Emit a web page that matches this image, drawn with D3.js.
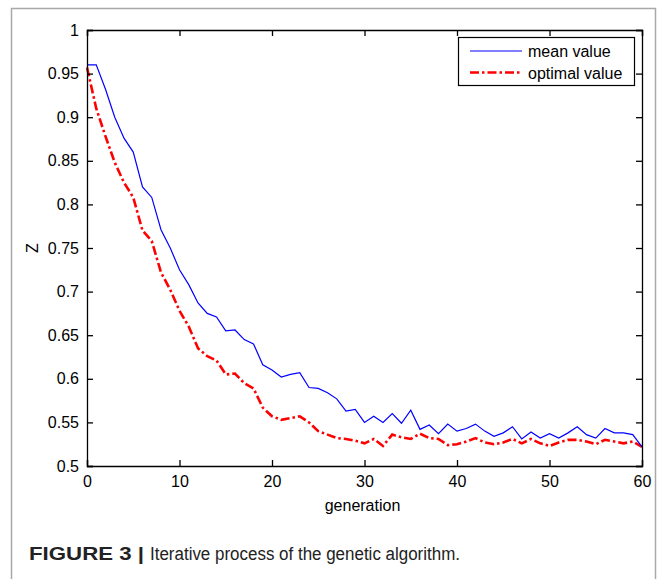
<!DOCTYPE html>
<html><head><meta charset="utf-8">
<script src="https://cdn.jsdelivr.net/npm/d3@7"></script>
<style>body{margin:0;background:#fff;} svg{display:block;}</style>
</head><body>
<svg id="chart" width="665" height="579"></svg>
<script>
const generations = d3.range(0, 61);
const meanValue = [0.960,0.960,0.932,0.900,0.876,0.860,0.820,0.808,0.771,0.750,
  0.725,0.708,0.687,0.675,0.671,0.655,0.656,0.645,0.640,0.616,
  0.610,0.602,0.605,0.607,0.590,0.589,0.584,0.577,0.563,0.565,
  0.550,0.557,0.550,0.560,0.549,0.564,0.542,0.547,0.537,0.548,
  0.540,0.543,0.548,0.540,0.534,0.538,0.545,0.531,0.539,0.532,
  0.537,0.532,0.538,0.545,0.536,0.532,0.543,0.538,0.538,0.536,0.522];
const optimalValue = [0.957,0.910,0.878,0.848,0.825,0.808,0.770,0.758,0.722,0.702,
  0.678,0.660,0.635,0.626,0.621,0.605,0.606,0.595,0.589,0.567,
  0.557,0.553,0.555,0.557,0.550,0.540,0.536,0.532,0.531,0.529,
  0.526,0.531,0.523,0.536,0.533,0.531,0.537,0.532,0.531,0.524,
  0.525,0.528,0.532,0.527,0.525,0.527,0.531,0.526,0.531,0.526,
  0.523,0.527,0.530,0.530,0.528,0.525,0.530,0.528,0.526,0.528,0.522];
const xTicks = [0,10,20,30,40,50,60];
const yTicks = [0.5,0.55,0.6,0.65,0.7,0.75,0.8,0.85,0.9,0.95,1];
const seriesNames = ["mean value","optimal value"];
const xLabel = "generation";
const yLabel = "Z";
const captionBold = "FIGURE 3 |";
const captionText = "Iterative process of the genetic algorithm.";

const svg = d3.select("#chart");
const font = "'Liberation Sans', Arial, sans-serif";
const L = 87, R = 642, T = 30, B = 466;
const x = d3.scaleLinear().domain([0,60]).range([L,R]);
const y = d3.scaleLinear().domain([0.5,1]).range([B,T]);

// outer frame
svg.append("rect").attr("x",11.5).attr("y",8.5).attr("width",644).attr("height",620)
  .attr("fill","none").attr("stroke","#a8a8a8").attr("stroke-width",1.5);

// lines
const line = d3.line().x((d,i)=>x(generations[i])).y(d=>y(d));
svg.append("path").datum(optimalValue).attr("d",line).attr("fill","none")
  .attr("stroke","#ff0000").attr("stroke-width",2.6).attr("stroke-dasharray","9,3,2.5,3");
svg.append("path").datum(meanValue).attr("d",line).attr("fill","none")
  .attr("stroke","#0000ff").attr("stroke-width",1.2);

// axes (inward ticks, box)
const tickLen = 6;
const gB = svg.append("g").attr("transform",`translate(0,${B})`)
  .call(d3.axisBottom(x).tickValues(xTicks).tickSize(-tickLen).tickPadding(10).tickFormat(d3.format("d")));
const gT = svg.append("g").attr("transform",`translate(0,${T})`)
  .call(d3.axisTop(x).tickValues(xTicks).tickSize(-tickLen).tickFormat(""));
const gL = svg.append("g").attr("transform",`translate(${L},0)`)
  .call(d3.axisLeft(y).tickValues(yTicks).tickSize(-tickLen).tickPadding(8).tickFormat(d=>d3.format("")(+d.toFixed(2))));
const gR = svg.append("g").attr("transform",`translate(${R},0)`)
  .call(d3.axisRight(y).tickValues(yTicks).tickSize(-tickLen).tickFormat(""));
[gB,gT,gL,gR].forEach(g=>{
  g.select(".domain").attr("stroke","#000").attr("stroke-width",1.3);
  g.selectAll(".tick line").attr("stroke","#000").attr("stroke-width",1.3);
  g.selectAll(".tick text").attr("fill","#000").style("font-family",font).style("font-size","16px");
});
gB.selectAll(".tick text").attr("dy","0.71em");

// axis labels
svg.append("text").attr("x",(L+R)/2 - 2).attr("y",511).attr("text-anchor","middle")
  .style("font-family",font).style("font-size","16px").attr("fill","#000").text(xLabel);
svg.append("text").attr("transform","translate(38,248) rotate(-90)").attr("text-anchor","middle")
  .style("font-family",font).style("font-size","16px").attr("fill","#000").text(yLabel);

// legend
const lg = svg.append("g");
lg.append("rect").attr("x",458.5).attr("y",37.5).attr("width",176).attr("height",48)
  .attr("fill","#fff").attr("stroke","#000").attr("stroke-width",1.2);
const legY = [51, 72.5];
lg.append("line").attr("x1",470).attr("x2",522).attr("y1",legY[0]).attr("y2",legY[0])
  .attr("stroke","#0000ff").attr("stroke-width",1.2);
lg.append("line").attr("x1",470).attr("x2",522).attr("y1",legY[1]).attr("y2",legY[1])
  .attr("stroke","#ff0000").attr("stroke-width",2.6).attr("stroke-dasharray","9,3,2.5,3");
seriesNames.forEach((n,i)=>{
  lg.append("text").attr("x",528).attr("y",legY[i]+6).style("font-family",font)
    .style("font-size","16px").attr("fill","#000").text(n);
});

// caption
svg.append("text").attr("x",29).attr("y",560).style("font-family",font)
  .style("font-size","18px").style("font-weight","bold").attr("fill","#222")
  .attr("textLength",115).attr("lengthAdjust","spacingAndGlyphs").text(captionBold);
svg.append("text").attr("x",150).attr("y",560).style("font-family",font)
  .style("font-size","18px").attr("fill","#222")
  .attr("textLength",310).attr("lengthAdjust","spacingAndGlyphs").text(captionText);
</script>
</body></html>
